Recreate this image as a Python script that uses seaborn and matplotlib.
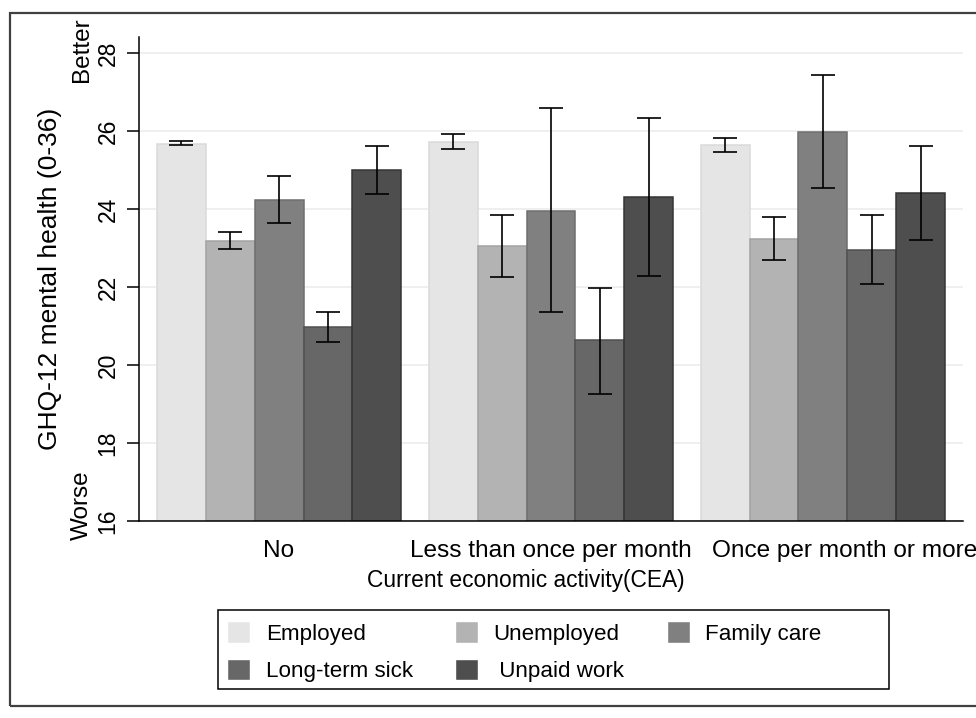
import numpy as np
import pandas as pd
import matplotlib
matplotlib.use('Agg')
from matplotlib import pyplot as plt
from matplotlib.patches import Rectangle
from matplotlib.transforms import ScaledTranslation
import seaborn as sns

groups = ['No', 'Less than once per month', 'Once per month or more']
status = ['Employed', 'Unemployed', 'Family care', 'Long-term sick', ' Unpaid work']

# mean GHQ-12 score per group (No, <1/month, >=1/month)
employed = [25.67, 25.71, 25.63]
unemployed = [23.18, 23.04, 23.23]
family_care = [24.23, 23.95, 25.97]
long_term_sick = [20.97, 20.63, 22.94]
unpaid_work = [24.99, 24.31, 24.40]

# confidence interval ends
employed_lo = [25.63, 25.53, 25.47]
employed_hi = [25.74, 25.91, 25.82]
unemployed_lo = [22.97, 22.26, 22.70]
unemployed_hi = [23.42, 23.85, 23.79]
family_care_lo = [23.65, 21.35, 24.53]
family_care_hi = [24.84, 26.58, 27.44]
long_term_sick_lo = [20.60, 19.26, 22.07]
long_term_sick_hi = [21.37, 21.98, 23.85]
unpaid_work_lo = [24.39, 22.27, 23.21]
unpaid_work_hi = [25.62, 26.33, 25.62]

means = [employed, unemployed, family_care, long_term_sick, unpaid_work]
lows = [employed_lo, unemployed_lo, family_care_lo, long_term_sick_lo, unpaid_work_lo]
highs = [employed_hi, unemployed_hi, family_care_hi, long_term_sick_hi, unpaid_work_hi]

fills = ['#e5e5e5', '#b3b3b3', '#808080', '#676767', '#4e4e4e']
edges = ['#dadada', '#a3a3a3', '#6f6f6f', '#505050', '#353535']

rows = []
for s, m, lo, hi in zip(status, means, lows, highs):
    for g, v, a, b in zip(groups, m, lo, hi):
        rows.append({'group': g, 'status': s, 'value': v, 'lo': a, 'hi': b})
df = pd.DataFrame(rows)

sns.set_theme(style='white')
plt.rcParams['font.family'] = ['Liberation Sans', 'DejaVu Sans']
for k in ['text.color', 'axes.labelcolor', 'xtick.color', 'ytick.color']:
    plt.rcParams[k] = 'black'

fig = plt.figure(figsize=(9.76, 7.18), dpi=100)
ax = fig.add_axes([0.1424, 0.2744, 0.8443, 0.6736])

sns.barplot(data=df, x='group', y='value', hue='status', order=groups,
            hue_order=status, palette=fills, errorbar=None, width=0.9,
            saturation=1, ax=ax, legend=True, zorder=2)

for cont, s, ec in zip(ax.containers, status, edges):
    sub = df[df.status == s].set_index('group').loc[groups]
    xs = []
    for bar in cont:
        bar.set_edgecolor(ec)
        bar.set_linewidth(1.1)
        xs.append(bar.get_x() + bar.get_width() / 2)
    ax.errorbar(xs, sub['value'], yerr=[sub['value'] - sub['lo'], sub['hi'] - sub['value']],
                fmt='none', ecolor='black', elinewidth=1.2, capsize=8.5, capthick=1.2, zorder=3)

ax.set_ylim(16, 28.4)
ax.set_xlim(-0.515, 2.515)
ax.set_yticks(np.arange(16, 29, 2))
ax.set_yticklabels([str(v) for v in range(16, 29, 2)], rotation=90, va='center', fontsize=16.5)
ax.tick_params(axis='y', length=9, width=1.1, color='black', pad=5, left=True)
ax.tick_params(axis='x', length=0, pad=14, labelsize=17.6)
# last category label sits a bit to the right in the original
lab = ax.get_xticklabels()[2]
lab.set_transform(lab.get_transform() + ScaledTranslation(22 / 100, 0, fig.dpi_scale_trans))
ax.yaxis.grid(True, color='#ebebeb', linewidth=1.1, zorder=0)
ax.set_axisbelow(True)
for sp in ['top', 'right']:
    ax.spines[sp].set_visible(False)
for sp in ['left', 'bottom']:
    ax.spines[sp].set_color('black')
    ax.spines[sp].set_linewidth(1.1)

ax.set_xlabel('')
ax.set_ylabel('GHQ-12 mental health (0-36)', fontsize=19)
ax.yaxis.set_label_coords(-0.093, 0.5)
fig.text(526 / 976, 1 - 580 / 718, 'Current economic activity(CEA)', fontsize=16.4,
         ha='center', va='center')
fig.text(82 / 976, 1 - 50 / 718, 'Better', fontsize=17.5, rotation=90, ha='center', va='center')
fig.text(82 / 976, 1 - 505 / 718, 'Worse', fontsize=17.5, rotation=90, ha='center', va='center')

# legend, row-major order
handles, labels = ax.get_legend_handles_labels()
ax.get_legend().remove()
order = [0, 3, 1, 4, 2]
fig.legend([handles[i] for i in order], [labels[i] for i in order], ncol=3,
           loc='upper left', bbox_to_anchor=(218 / 976, 1 - 612 / 718), frameon=False,
           fontsize=16.1, handlelength=1.03, handleheight=1.1, handletextpad=0.68,
           columnspacing=1.9, labelspacing=0.62, borderpad=0.42, borderaxespad=0)
fig.patches.append(Rectangle((218 / 976, 1 - 689 / 718), (889 - 218) / 976, 79 / 718,
                             transform=fig.transFigure, fill=False, edgecolor='black',
                             linewidth=1.1))
fig.patches.append(Rectangle((10 / 976, 1 - 706 / 718), 1.2, (706 - 13) / 718,
                             transform=fig.transFigure, fill=False, edgecolor='#404040',
                             linewidth=1.6, clip_on=False))

fig.savefig('out.png', dpi=100)
